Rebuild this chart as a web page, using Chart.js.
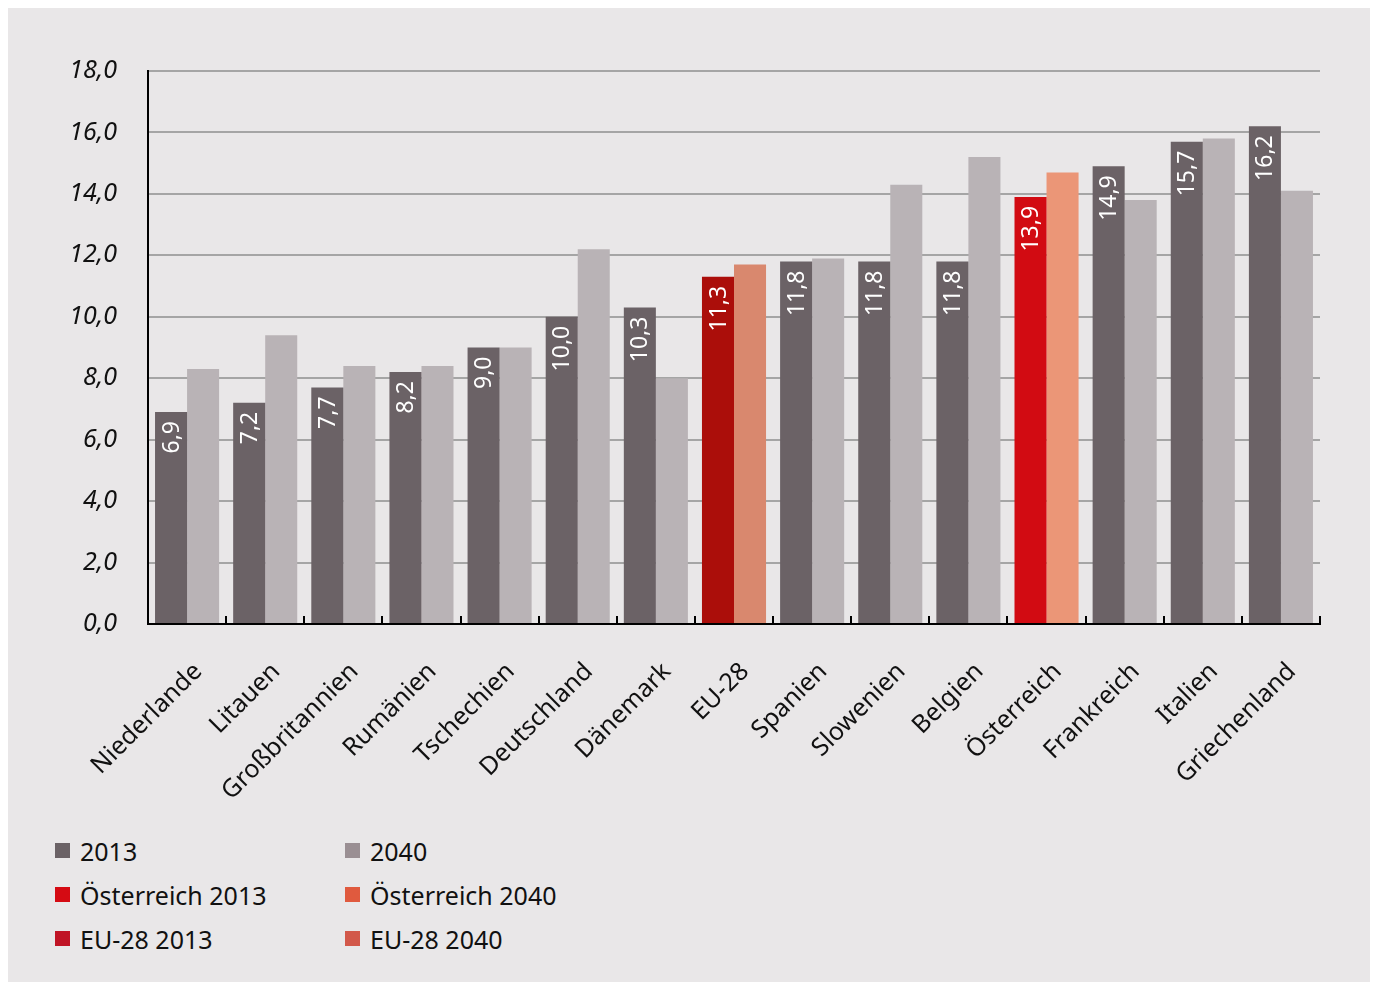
<!DOCTYPE html>
<html>
<head>
<meta charset="utf-8">
<script src="https://cdn.jsdelivr.net/npm/chart.js@4/dist/chart.umd.min.js"></script>
<style>
  body { margin: 0; background: #fff; }
  #panel { position: absolute; left: 8px; top: 8px; width: 1362px; height: 974px; background: #e9e7e8; }
  #wrap { position: absolute; left: 0; top: 0; width: 1362px; height: 806px; }
  #legend { position: absolute; left: 47px; top: 827px; display: grid; grid-template-columns: 290px 300px;
            row-gap: 13px; font-family: "Noto Sans", sans-serif; font-size: 25px; color: #111; }
  #legend div { display: flex; align-items: center; height: 31px; }
  #legend span { display: inline-block; width: 15px; height: 15px; margin-right: 10px; }
</style>
</head>
<body>
<div id="panel">
  <div id="wrap"><canvas id="barChart"></canvas></div>
  <div id="legend"></div>
</div>
<script>
var countries = ["Niederlande", "Litauen", "Großbritannien", "Rumänien", "Tschechien", "Deutschland",
    "Dänemark", "EU-28", "Spanien", "Slowenien", "Belgien", "Österreich", "Frankreich", "Italien", "Griechenland"];
var values2013 = [6.9, 7.2, 7.7, 8.2, 9.0, 10.0, 10.3, 11.3, 11.8, 11.8, 11.8, 13.9, 14.9, 15.7, 16.2];
var values2040 = [8.3, 9.4, 8.4, 8.4, 9.0, 12.2, 8.0, 11.7, 11.9, 14.3, 15.2, 14.7, 13.8, 15.8, 14.1];
var yTicks = [0, 2, 4, 6, 8, 10, 12, 14, 16, 18];

var legendItems = [
    ["2013", "#6b6266"], ["2040", "#9a8f93"],
    ["Österreich 2013", "#d50b13"], ["Österreich 2040", "#e05a3e"],
    ["EU-28 2013", "#c01425"], ["EU-28 2040", "#d2584a"]
];

function fmt(v) {
    return v.toFixed(1).replace(".", ",");
}

// highlighted bars for Austria and the EU average
function colors(base, at, eu) {
    return countries.map(function (c) {
        if (c == "Österreich") return at;
        if (c == "EU-28") return eu;
        return base;
    });
}

var FONT = "'Noto Sans', sans-serif";

// value labels written upwards inside the 2013 bars
var valueLabels = {
    id: 'valueLabels',
    afterDatasetsDraw: function (chart) {
        var ctx = chart.ctx;
        var meta = chart.getDatasetMeta(0);
        ctx.save();
        ctx.fillStyle = "#fff";
        ctx.font = "23px " + FONT;
        meta.data.forEach(function (bar, i) {
            ctx.save();
            ctx.translate(bar.x, bar.y + 9);
            ctx.rotate(-Math.PI / 2);
            ctx.textAlign = "right";
            ctx.textBaseline = "middle";
            ctx.fillText(fmt(values2013[i]), 0, 1);
            ctx.restore();
        });
        ctx.restore();
    }
};

// small upward ticks between the categories on the x axis
var innerTicks = {
    id: 'innerTicks',
    afterDraw: function (chart) {
        var ctx = chart.ctx;
        var area = chart.chartArea;
        var n = countries.length;
        var step = (area.right - area.left) / n;
        ctx.save();
        ctx.strokeStyle = "#000";
        ctx.lineWidth = 2;
        for (var i = 0; i <= n; i++) {
            var x = Math.round(area.left + i * step);
            ctx.beginPath();
            ctx.moveTo(x, area.bottom);
            ctx.lineTo(x, area.bottom - 8);
            ctx.stroke();
        }
        ctx.restore();
    }
};

var ctxB = document.getElementById("barChart").getContext('2d');
var myBarChart = new Chart(ctxB, {
    type: 'bar',
    data: {
        labels: countries,
        datasets: [{
            label: "2013",
            data: values2013,
            backgroundColor: colors("#6b6266", "#d20b12", "#ab0e0a")
        }, {
            label: "2040",
            data: values2040,
            backgroundColor: colors("#b9b3b6", "#eb9677", "#d9886e")
        }]
    },
    options: {
        responsive: true,
        maintainAspectRatio: false,
        animation: false,
        categoryPercentage: 0.82,
        barPercentage: 1.0,
        layout: { padding: { left: 60, top: 63, right: 50, bottom: 0 } },
        plugins: {
            legend: { display: false },
            tooltip: { enabled: false }
        },
        scales: {
            x: {
                afterFit: function (s) { s.height = 190; },
                grid: { display: false, drawTicks: false },
                border: { color: "#000", width: 2 },
                ticks: {
                    color: "#111",
                    font: { family: FONT, size: 25 },
                    minRotation: 45,
                    maxRotation: 45,
                    autoSkip: false,
                    padding: 33,
                    labelOffset: 11
                }
            },
            y: {
                min: 0,
                max: 18,
                afterFit: function (s) { s.width = 80; },
                afterBuildTicks: function (s) {
                    s.ticks = yTicks.map(function (v) { return { value: v }; });
                },
                grid: { color: "#a5a5a5", lineWidth: 2, drawTicks: false },
                border: { color: "#000", width: 2 },
                ticks: {
                    color: "#111",
                    padding: 31,
                    font: { family: FONT, size: 25, style: 'italic' },
                    callback: function (v) { return fmt(v); }
                }
            }
        }
    },
    plugins: [valueLabels, innerTicks]
});

var legend = document.getElementById('legend');
legendItems.forEach(function (item) {
    var row = document.createElement('div');
    var box = document.createElement('span');
    box.style.background = item[1];
    row.appendChild(box);
    row.appendChild(document.createTextNode(item[0]));
    legend.appendChild(row);
});
</script>
</body>
</html>
